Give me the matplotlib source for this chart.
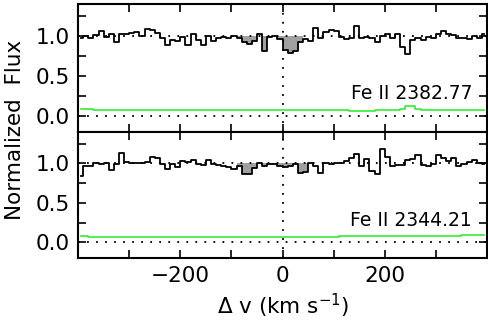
import numpy as np
import matplotlib
matplotlib.use("Agg")
import matplotlib.pyplot as plt

# velocity bin centres (km/s)
vel = np.arange(-395, 400, 10)

# Fe II 2382.77 normalized flux
flux_2382 = [0.97, 1.00, 0.98, 1.01, 1.06, 0.99, 1.02, 0.93, 1.03, 1.03,
             1.04, 1.05, 1.00, 1.09, 1.07, 1.04, 0.98, 0.89, 0.95, 0.94,
             0.99, 0.89, 1.02, 0.95, 0.89, 1.00, 0.94, 0.97, 0.99, 0.97,
             1.00, 0.98, 0.92, 0.90, 0.94, 1.02, 0.81, 0.99, 1.00, 0.96,
             0.82, 0.78, 0.81, 0.92, 0.96, 0.94, 1.10, 0.98, 1.05, 1.08,
             1.06, 0.99, 0.96, 0.98, 1.12, 0.97, 0.99, 0.97, 0.93, 1.00,
             1.02, 0.97, 1.02, 0.86, 0.77, 0.95, 0.97, 0.95, 0.99, 0.98,
             1.02, 1.06, 1.02, 1.01, 0.97, 0.98, 0.96, 1.00, 0.98, 1.03]
err_2382 = [0.09, 0.08, 0.08, 0.07, 0.07, 0.07, 0.07, 0.07, 0.07, 0.07,
            0.07, 0.07, 0.07, 0.07, 0.07, 0.07, 0.07, 0.07, 0.07, 0.07,
            0.07, 0.07, 0.07, 0.07, 0.07, 0.07, 0.07, 0.07, 0.07, 0.07,
            0.07, 0.07, 0.07, 0.07, 0.07, 0.07, 0.07, 0.07, 0.07, 0.07,
            0.07, 0.07, 0.07, 0.07, 0.07, 0.07, 0.07, 0.07, 0.07, 0.07,
            0.07, 0.07, 0.07, 0.065, 0.065, 0.065, 0.065, 0.065, 0.07, 0.07,
            0.07, 0.07, 0.07, 0.09, 0.12, 0.12, 0.09, 0.07, 0.07, 0.07,
            0.07, 0.07, 0.07, 0.07, 0.07, 0.07, 0.07, 0.07, 0.07, 0.07]

# Fe II 2344.21 normalized flux
flux_2344 = [0.84, 0.96, 0.97, 1.01, 0.99, 1.00, 0.91, 0.99, 1.13, 1.02,
             1.01, 1.01, 1.00, 1.02, 1.08, 1.07, 0.99, 0.93, 0.99, 0.95,
             1.03, 1.02, 1.04, 0.99, 0.98, 1.04, 0.99, 0.98, 0.97, 0.95,
             0.93, 0.96, 0.87, 0.86, 0.94, 1.01, 0.97, 0.99, 0.99, 0.96,
             0.95, 0.97, 0.99, 0.88, 0.89, 1.00, 0.97, 0.88, 1.01, 0.99,
             1.00, 1.01, 1.03, 1.07, 1.12, 0.97, 1.05, 0.90, 0.87, 1.18,
             1.08, 0.96, 0.98, 0.98, 1.04, 1.05, 1.10, 0.98, 0.97, 0.99,
             1.10, 1.07, 1.03, 1.07, 0.97, 0.99, 1.02, 1.04, 1.00, 0.99]
err_2344 = [0.075, 0.075, 0.07, 0.07, 0.07, 0.07, 0.07, 0.07, 0.07, 0.07,
            0.07, 0.07, 0.07, 0.07, 0.07, 0.07, 0.07, 0.07, 0.07, 0.07,
            0.07, 0.07, 0.07, 0.07, 0.07, 0.07, 0.07, 0.07, 0.07, 0.07,
            0.07, 0.07, 0.07, 0.07, 0.07, 0.065, 0.065, 0.065, 0.065, 0.065,
            0.065, 0.065, 0.065, 0.065, 0.065, 0.065, 0.065, 0.065, 0.07, 0.07,
            0.07, 0.075, 0.08, 0.085, 0.085, 0.085, 0.085, 0.085, 0.085, 0.085,
            0.085, 0.085, 0.085, 0.085, 0.085, 0.085, 0.085, 0.085, 0.085, 0.085,
            0.085, 0.085, 0.085, 0.085, 0.085, 0.09, 0.09, 0.09, 0.09, 0.09]

panels = [
    ("Fe II 2382.77", flux_2382, err_2382, (-90, 40)),
    ("Fe II 2344.21", flux_2344, err_2344, (-90, 45)),
]

plt.rcParams['font.family'] = 'DejaVu Sans'
fig = plt.figure(figsize=(4.88, 3.21), dpi=100)
left, right = 0.16, 0.998
tops = [0.9875, 0.5897]
bottoms = [0.5897, 0.196]
dots = (0, (1, 4))

for i, (name, flux, err, (v1, v2)) in enumerate(panels):
    ax = fig.add_axes([left, bottoms[i], right - left, tops[i] - bottoms[i]])
    flux = np.array(flux)
    err = np.array(err)

    # shaded absorption region, drawn as full-width steps
    m = (vel >= v1) & (vel <= v2)
    edges = np.append(vel[m] - 5, vel[m][-1] + 5)
    xs = np.repeat(edges, 2)[1:-1]
    ys = np.repeat(np.minimum(flux[m], 1.0), 2)
    ax.fill_between(xs, ys, 1.0, color='#a0a0a0', linewidth=0, zorder=1)

    ax.step(vel, flux, where='mid', color='black', lw=1.3, zorder=3)
    ax.step(vel, err, where='mid', color='#33ee33', lw=1.2, zorder=3)

    ax.axhline(0.0, color='black', ls=dots, lw=1.3, zorder=2)
    ax.axhline(1.0, color='black', ls=dots, lw=1.3, zorder=2)
    ax.axvline(0.0, color='black', ls=dots, lw=1.3, zorder=2)

    ax.text(371, 0.275, name, ha='right', va='center', fontsize=13.5)

    ax.set_xlim(-400, 400)
    ax.set_ylim(-0.2, 1.4)
    ax.set_xticks([-200, 0, 200])
    ax.set_xticks(np.arange(-300, 400, 100), minor=True)
    ax.set_yticks([0.0, 0.5, 1.0])
    ax.set_yticks([0.25, 0.75, 1.25], minor=True)
    ax.set_yticklabels(['0.0', '0.5', '1.0'])
    ax.tick_params(which='both', direction='in', top=True, right=True,
                   labelsize=15.5, length=6, width=1.2, pad=6)
    for s in ax.spines.values():
        s.set_linewidth(1.5)
    if i == 0:
        ax.tick_params(labelbottom=False)
    else:
        ax.set_xticklabels(['\u2212200', '0', '200'])

fig.text(0.031, 0.595, 'Normalized  Flux', rotation=90, ha='center',
         va='center', fontsize=15.5)
fig.text(0.58, 0.047, r'$\Delta$ v (km s$^{-1}$)', ha='center', va='center',
         fontsize=15.5)

fig.savefig('out.png', dpi=100)
